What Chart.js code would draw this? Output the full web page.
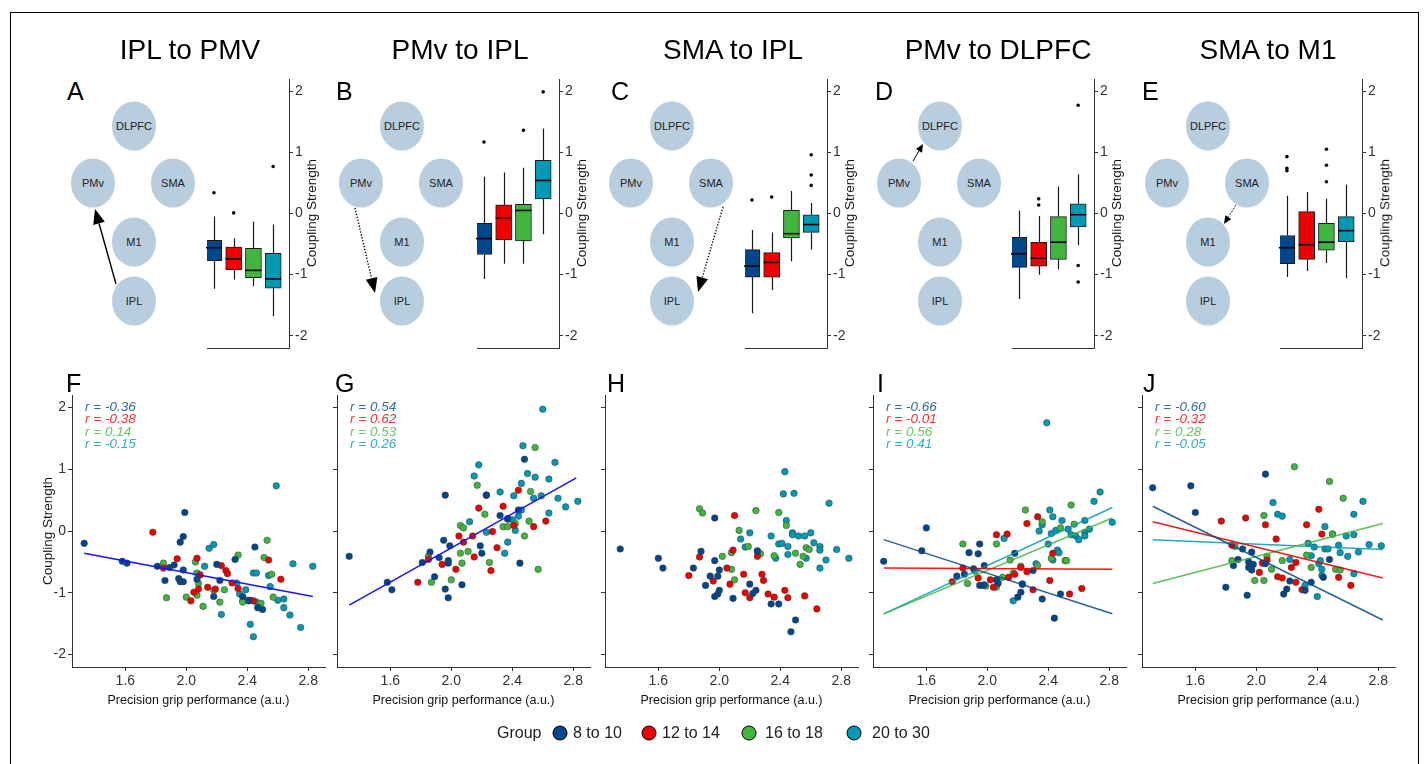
<!DOCTYPE html>
<html>
<head>
<meta charset="utf-8">
<script src="https://cdn.jsdelivr.net/npm/chart.js@4.4.0/dist/chart.umd.min.js"></script>
<style>
  html, body { margin: 0; padding: 0; background: #fff; }
  body { width: 1427px; height: 764px; position: relative; overflow: hidden;
         font-family: "Liberation Sans", Arial, sans-serif; color: #000; }
  canvas { position: absolute; }
  .t { position: absolute; white-space: nowrap; line-height: 1; }
</style>
</head>
<body>
<svg id="diagrams" width="1427" height="764" style="position:absolute;left:0;top:0"></svg>
<script>
// ---- data ----
const GROUPS = ['8 to 10', '12 to 14', '16 to 18', '20 to 30'];
const TITLES = ['IPL to PMV', 'PMv to IPL', 'SMA to IPL', 'PMv to DLPFC', 'SMA to M1'];
const Y_TICKS = [-2, -1, 0, 1, 2];
const X_TICKS = [1.6, 2.0, 2.4, 2.8];

// boxplots: per group [lower whisker, Q1, median, Q3, upper whisker]
const boxA = [[-1.23, -0.77, -0.56, -0.44, -0.05], [-1.08, -0.92, -0.74, -0.55, -0.41], [-1.19, -1.05, -0.93, -0.57, -0.13], [-1.68, -1.22, -1.07, -0.65, -0.18]];
const outA = [[0.34], [0.01], [], [0.77]];
const boxB = [[-1.07, -0.67, -0.41, -0.16, 0.60], [-0.82, -0.43, -0.07, 0.14, 0.67], [-0.82, -0.45, 0.05, 0.15, 0.75], [-0.34, 0.24, 0.54, 0.87, 1.39]];
const outB = [[1.17], [], [1.36], [1.99]];
const boxC = [[-1.63, -1.04, -0.86, -0.59, -0.27], [-1.25, -1.04, -0.80, -0.64, -0.31], [-0.78, -0.40, -0.33, 0.05, 0.37], [-0.59, -0.31, -0.18, -0.02, 0.17]];
const outC = [[0.22], [0.27], [], [0.96, 0.63, 0.46]];
const boxD = [[-1.40, -0.88, -0.66, -0.39, 0.05], [-1.00, -0.86, -0.73, -0.47, -0.04], [-0.91, -0.75, -0.47, -0.05, 0.44], [-0.52, -0.22, -0.02, 0.16, 0.64]];
const outD = [[], [0.24, 0.14], [], [1.77, -0.85, -1.12]];
const boxE = [[-1.04, -0.82, -0.56, -0.36, 0.29], [-0.94, -0.75, -0.51, 0.03, 0.35], [-0.81, -0.60, -0.47, -0.16, 0.24], [-1.06, -0.46, -0.28, -0.05, 0.47]];
const outE = [[0.93, 0.74, 0.70], [], [1.05, 0.79, 0.52], []];

// scatter: per group [grip performance, coupling strength]
const ptsF = [
  [[1.33,-0.20],[1.58,-0.49],[1.61,-0.52],[1.81,-0.57],[1.86,-0.80],[1.89,-0.59],[1.92,-0.55],[1.95,-0.77],[1.96,-0.18],[1.96,-0.82],[1.98,-0.09],[1.98,-0.63],[1.98,-0.82],[1.99,0.30],[2.07,-0.78],[2.18,-1.06],[2.20,-0.54],[2.22,-0.80],[2.32,-0.46],[2.37,-1.06],[2.41,-1.13],[2.45,-0.26],[2.47,-1.24],[2.50,-1.27]],
  [[1.78,-0.02],[1.85,-0.60],[1.94,-0.45],[2.03,-1.13],[2.05,-0.99],[2.07,-0.44],[2.08,-0.94],[2.09,-0.71],[2.14,-0.91],[2.19,-0.94],[2.23,-0.56],[2.26,-0.64],[2.27,-0.69],[2.30,-0.84],[2.34,-0.93],[2.42,-1.12],[2.44,-1.13],[2.54,-0.47],[2.62,-0.78]],
  [[1.85,-0.52],[1.87,-1.08],[2.00,-1.07],[2.06,-0.50],[2.07,-0.68],[2.07,-1.04],[2.08,-0.85],[2.11,-1.22],[2.18,-0.96],[2.22,-1.15],[2.25,-0.95],[2.34,-0.39],[2.37,-1.15],[2.49,-1.17],[2.51,-0.43],[2.53,-0.15],[2.56,-0.70],[2.57,-1.07]],
  [[2.12,-0.57],[2.15,-0.28],[2.18,-0.22],[2.23,-1.35],[2.33,-0.84],[2.35,-1.02],[2.37,-1.13],[2.39,-0.95],[2.40,-1.12],[2.42,-1.51],[2.44,-1.71],[2.44,-0.68],[2.46,-0.68],[2.46,-1.15],[2.47,-1.24],[2.54,-0.72],[2.55,-0.90],[2.59,0.73],[2.60,-1.12],[2.64,-1.10],[2.64,-1.24],[2.68,-1.36],[2.70,-0.53],[2.75,-1.56],[2.83,-0.57]]
];
const ptsG = [
  [[1.33,-0.41],[1.58,-0.83],[1.61,-0.95],[1.81,-0.51],[1.86,-0.34],[1.89,-0.74],[1.92,-0.43],[1.95,-0.15],[1.96,0.58],[1.96,-0.94],[1.98,-0.48],[1.98,-0.52],[1.98,-1.08],[1.99,-0.24],[2.07,-0.87],[2.19,-0.24],[2.20,-0.36],[2.23,0.58],[2.32,0.25],[2.37,0.20],[2.44,0.34],[2.45,-0.52],[2.48,1.16]],
  [[1.78,-0.83],[1.85,-0.46],[1.94,-0.54],[2.03,-0.62],[2.05,-0.08],[2.08,-0.18],[2.14,-0.08],[2.15,-0.42],[2.18,0.37],[2.23,0.58],[2.26,-0.64],[2.27,-0.01],[2.30,-0.27],[2.34,0.40],[2.41,0.09],[2.44,0.66],[2.54,0.07],[2.62,0.16]],
  [[1.85,-0.41],[1.87,-0.83],[2.00,-0.79],[2.06,0.09],[2.08,0.05],[2.06,-0.36],[2.07,-0.52],[2.11,-0.33],[2.17,0.74],[2.22,0.27],[2.25,-0.51],[2.34,0.07],[2.37,0.07],[2.42,0.12],[2.48,-0.08],[2.51,0.16],[2.52,0.64],[2.55,1.35],[2.57,-0.62]],
  [[2.12,0.15],[2.15,0.89],[2.18,1.07],[2.23,-0.02],[2.32,0.63],[2.35,-0.36],[2.37,-0.18],[2.37,0.19],[2.40,0.18],[2.41,0.57],[2.42,0.01],[2.44,0.24],[2.46,0.34],[2.46,0.77],[2.47,1.38],[2.50,0.93],[2.54,0.53],[2.55,0.87],[2.59,0.57],[2.60,1.97],[2.64,0.29],[2.64,0.84],[2.68,1.11],[2.70,0.53],[2.75,0.39],[2.83,0.48]]
];
const ptsH = [
  [[1.35,-0.29],[1.60,-0.44],[1.63,-0.60],[1.83,-0.60],[1.88,-0.33],[1.91,-0.88],[1.94,-0.73],[1.97,-1.06],[1.97,0.21],[1.97,-0.48],[1.99,-1.02],[1.99,-0.73],[2.00,-0.63],[2.00,-0.96],[2.09,-1.09],[2.20,-0.86],[2.22,-1.01],[2.24,-0.96],[2.25,-0.33],[2.34,-1.18],[2.39,-1.18],[2.47,-1.63],[2.50,-1.44]],
  [[1.80,-0.72],[1.87,-0.42],[1.96,-0.81],[2.05,-0.60],[2.07,-0.86],[2.09,-0.31],[2.10,0.25],[2.16,-0.70],[2.17,-1.00],[2.20,-1.08],[2.25,-0.41],[2.28,-0.70],[2.29,-0.80],[2.32,-1.02],[2.36,-1.07],[2.43,-0.96],[2.45,-1.08],[2.56,-1.05],[2.64,-1.26]],
  [[1.87,0.36],[1.89,0.29],[2.02,-0.41],[2.08,-0.62],[2.08,-0.35],[2.10,-0.79],[2.13,0.01],[2.19,-0.25],[2.24,0.33],[2.27,-0.37],[2.36,-0.40],[2.39,0.30],[2.44,0.09],[2.50,-0.36],[2.53,-0.54],[2.55,-0.41],[2.57,-0.27],[2.59,-0.30]],
  [[2.14,-0.13],[2.17,-0.26],[2.20,-0.03],[2.25,-0.32],[2.34,-0.08],[2.37,-0.44],[2.39,-0.21],[2.41,-0.20],[2.42,0.60],[2.43,0.96],[2.44,0.17],[2.45,-0.25],[2.45,-0.38],[2.48,-0.03],[2.48,-0.06],[2.49,0.61],[2.52,-0.08],[2.56,-0.08],[2.57,-0.44],[2.60,-0.03],[2.62,-0.19],[2.66,-0.25],[2.66,-0.31],[2.66,-0.60],[2.70,-0.47],[2.72,0.45],[2.77,-0.30],[2.85,-0.44]]
];
const ptsI = [
  [[1.32,-0.49],[1.57,-0.32],[1.60,0.05],[1.80,-0.73],[1.85,-0.70],[1.88,-0.35],[1.91,-0.61],[1.94,-0.37],[1.95,-0.21],[1.95,-0.88],[1.97,-0.88],[1.98,-0.56],[1.98,-0.87],[2.06,-0.79],[2.07,-0.84],[2.18,-0.36],[2.20,-1.07],[2.22,-0.99],[2.23,-0.86],[2.30,-0.64],[2.36,-1.10],[2.44,-1.41],[2.48,-1.02]],
  [[1.77,-0.82],[1.84,-0.60],[1.94,-0.76],[2.02,-0.79],[2.04,-0.91],[2.06,-0.06],[2.07,-0.85],[2.13,-0.05],[2.14,-0.75],[2.18,-0.70],[2.22,-0.59],[2.26,0.12],[2.26,-0.66],[2.30,-0.95],[2.33,0.23],[2.41,-0.80],[2.43,-0.36],[2.54,-1.02],[2.62,-0.93]],
  [[1.84,-0.21],[1.87,-0.85],[1.92,-0.65],[1.99,-0.89],[2.06,-0.21],[2.06,-0.91],[2.10,-0.75],[2.15,-0.47],[2.17,-0.68],[2.22,-0.57],[2.25,0.34],[2.33,-0.56],[2.36,0.15],[2.42,-0.44],[2.48,0.05],[2.51,-0.48],[2.52,-0.48],[2.55,0.42],[2.57,0.11]],
  [[2.11,-0.12],[2.17,-1.13],[2.23,-0.86],[2.32,-0.53],[2.34,0.00],[2.36,0.10],[2.39,1.75],[2.40,-0.21],[2.41,0.34],[2.42,-0.04],[2.43,0.23],[2.43,-0.47],[2.45,0.01],[2.46,-0.31],[2.47,-0.35],[2.49,0.17],[2.53,0.03],[2.55,-0.06],[2.58,-0.08],[2.60,-0.14],[2.64,0.17],[2.64,-0.02],[2.64,-0.08],[2.67,0.03],[2.70,0.48],[2.74,0.63],[2.82,0.14]]
];
const ptsJ = [
  [[1.32,0.70],[1.57,0.73],[1.60,0.30],[1.80,-0.91],[1.85,-0.56],[1.88,-0.46],[1.91,-0.29],[1.94,-1.04],[1.95,-0.50],[1.95,-0.59],[1.97,-0.34],[1.97,-0.63],[1.98,-0.54],[2.06,0.92],[2.06,-0.53],[2.18,-1.02],[2.20,-0.94],[2.22,-0.81],[2.32,-0.96],[2.36,-0.83],[2.44,-0.75],[2.48,-0.46]],
  [[1.77,0.16],[1.84,-0.23],[1.93,0.21],[2.02,-0.67],[2.04,-0.52],[2.06,0.10],[2.07,-0.47],[2.13,-0.13],[2.14,-0.74],[2.17,-0.76],[2.23,-0.59],[2.26,-0.83],[2.26,-0.51],[2.30,-0.95],[2.33,0.10],[2.41,0.35],[2.43,-0.05],[2.54,-0.75],[2.62,-0.88]],
  [[1.84,-0.48],[1.86,-0.25],[1.99,-0.80],[2.05,0.25],[2.05,-0.80],[2.07,-0.41],[2.10,-0.62],[2.17,-0.48],[2.25,1.04],[2.33,-0.39],[2.36,-0.59],[2.48,0.80],[2.50,-0.05],[2.52,-0.62],[2.55,-0.63],[2.57,0.53]],
  [[2.11,0.46],[2.14,0.27],[2.17,0.24],[2.22,-0.46],[2.32,-0.88],[2.34,-0.20],[2.36,-0.40],[2.38,-0.26],[2.40,-1.06],[2.41,-0.53],[2.42,-0.48],[2.43,-0.62],[2.43,-0.72],[2.45,0.07],[2.45,-0.29],[2.47,-0.29],[2.50,-0.05],[2.54,-0.23],[2.55,-0.35],[2.59,-0.08],[2.60,-0.41],[2.64,0.27],[2.64,-0.06],[2.64,-0.69],[2.67,-0.34],[2.70,0.48],[2.74,-0.22],[2.82,-0.24]]
];

// fitted lines, end points [x, y]
const fitF = [[[1.33, -0.36], [2.83, -1.06]]];
const fitG = [[[1.33, -1.20], [2.82, 0.86]]];
const fitI = [[[1.32, -0.14], [2.82, -1.34]], [[1.32, -0.60], [2.82, -0.62]], [[1.32, -1.34], [2.82, 0.21]], [[1.32, -1.34], [2.82, 0.38]]];
const fitJ = [[[1.32, 0.40], [2.83, -1.44]], [[1.32, 0.15], [2.83, -0.76]], [[1.32, -0.85], [2.83, 0.12]], [[1.32, -0.14], [2.83, -0.30]]];

const rF = ['-0.36', '-0.38', '0.14', '-0.15'];
const rG = ['0.54', '0.62', '0.53', '0.26'];
const rI = ['-0.66', '-0.01', '0.56', '0.41'];
const rJ = ['-0.60', '-0.32', '0.28', '-0.05'];

// ---- styling / layout ----
const FONT = '"Liberation Sans", Arial, sans-serif';
const COLORS = ['#00468B', '#ED0000', '#42B540', '#0099B4'];
const TEXT_COLORS = ['#336BA2', '#F13333', '#68C466', '#33ADC3'];
const LINE_COLORS = ['rgba(0,70,139,0.85)', 'rgba(237,0,0,0.9)', 'rgba(66,181,64,0.85)', 'rgba(0,153,180,0.85)'];
const AXIS = '#333';

Chart.defaults.font.family = FONT;
Chart.defaults.color = AXIS;
Chart.defaults.animation = false;

function text(str, x, y, css) {
  const d = document.createElement('div');
  d.className = 't';
  d.textContent = str;
  d.style.left = x + 'px';
  d.style.top = y + 'px';
  d.style.cssText += css || '';
  document.body.appendChild(d);
  return d;
}

function makeCanvas(x, y, w, h) {
  const c = document.createElement('canvas');
  c.width = w; c.height = h;
  c.style.cssText = `left:${x}px;top:${y}px;width:${w}px;height:${h}px;`;
  document.body.appendChild(c);
  return c;
}

// figure frame + region diagrams
const svg = document.getElementById('diagrams');
const NS = 'http://www.w3.org/2000/svg';
function el(tag, attrs) {
  const e = document.createElementNS(NS, tag);
  for (const k in attrs) e.setAttribute(k, attrs[k]);
  svg.appendChild(e);
  return e;
}
el('rect', {x: 10.5, y: 12.5, width: 1408, height: 800, fill: 'none', stroke: '#000', 'stroke-width': 1});

const NODES = ['DLPFC', 'PMv', 'SMA', 'M1', 'IPL'];
const NODE_OFF = [[0, 126], [-41, 183], [39, 183], [0, 242], [0, 301]];
const DIAG_CX = [134, 402, 672, 940, 1208];
const ARROWS = [
  {from: [116, 284], to: [95, 209], dash: '', head: 15, hw: 6, lw: 1.4},
  {from: [355, 208], to: [375, 293], dash: '1.3 1.7', head: 15, hw: 6, lw: 1.4},
  {from: [723, 207], to: [698, 292], dash: '1.3 1.7', head: 15, hw: 6, lw: 1.4},
  {from: [913, 161], to: [923, 144], dash: '', head: 8, hw: 3.5, lw: 1},
  {from: [1236, 205], to: [1224, 224], dash: '2 1.3', head: 8, hw: 3.5, lw: 0.9}
];

DIAG_CX.forEach((cx, p) => {
  NODES.forEach((name, n) => {
    const [dx, cy] = NODE_OFF[n];
    el('ellipse', {cx: cx + dx, cy: cy, rx: 22, ry: 24.5, fill: '#B8CDDD'});
    const t = el('text', {x: cx + dx, y: cy + 4, 'text-anchor': 'middle', 'font-size': 11,
      'font-family': FONT, fill: '#222'});
    t.textContent = name;
  });
  const a = ARROWS[p];
  const vx = a.to[0] - a.from[0], vy = a.to[1] - a.from[1];
  const len = Math.hypot(vx, vy), ux = vx / len, uy = vy / len;
  const bx = a.to[0] - ux * a.head, by = a.to[1] - uy * a.head;
  const ln = el('line', {x1: a.from[0], y1: a.from[1], x2: bx, y2: by, stroke: '#000', 'stroke-width': a.lw});
  if (a.dash) ln.setAttribute('stroke-dasharray', a.dash);
  el('polygon', {points: `${a.to[0]},${a.to[1]} ${bx - uy * a.hw},${by + ux * a.hw} ${bx + uy * a.hw},${by - ux * a.hw}`, fill: '#000'});
});

// ---- boxplots ----
const BOX_RIGHT = [289, 559, 827, 1094, 1362];
const BOX_W = 82;
const BOX_TOP = 79, BOX_BOTTOM = 348;

function boxExtras(stats, outs) {
  return {
    id: 'boxExtras',
    beforeDatasetsDraw(chart) {
      const {ctx, scales: {x, y}} = chart;
      ctx.save();
      ctx.strokeStyle = '#1a1a1a';
      ctx.lineWidth = 1.2;
      stats.forEach((s, k) => {
        const px = Math.round(x.getPixelForValue(k + 1)) + 0.5;
        ctx.beginPath();
        ctx.moveTo(px, y.getPixelForValue(s[0])); ctx.lineTo(px, y.getPixelForValue(s[1]));
        ctx.moveTo(px, y.getPixelForValue(s[3])); ctx.lineTo(px, y.getPixelForValue(s[4]));
        ctx.stroke();
      });
      ctx.restore();
    },
    afterDatasetsDraw(chart) {
      const {ctx, scales: {x, y}} = chart;
      const bars = chart.getDatasetMeta(0).data;
      ctx.save();
      ctx.strokeStyle = '#000';
      ctx.lineWidth = 1.6;
      stats.forEach((s, k) => {
        const b = bars[k];
        const py = y.getPixelForValue(s[2]);
        ctx.beginPath();
        ctx.moveTo(b.x - b.width / 2, py); ctx.lineTo(b.x + b.width / 2, py);
        ctx.stroke();
      });
      ctx.fillStyle = '#000';
      outs.forEach((list, k) => {
        const px = x.getPixelForValue(k + 1);
        list.forEach(v => {
          ctx.beginPath();
          ctx.arc(px, y.getPixelForValue(v), 1.8, 0, Math.PI * 2);
          ctx.fill();
        });
      });
      ctx.restore();
    }
  };
}

function boxChart(p, stats, outs) {
  const left = BOX_RIGHT[p] - BOX_W;
  const padT = 16, padL = 6, yW = 24, xH = 16;
  const cv = makeCanvas(left - padL, BOX_TOP - padT, padL + BOX_W + yW + 2, padT + (BOX_BOTTOM - BOX_TOP) + xH);
  new Chart(cv, {
    type: 'bar',
    data: {
      datasets: [{
        data: stats.map((s, k) => ({x: k + 1, y: [s[1], s[3]]})),
        backgroundColor: COLORS,
        borderColor: '#1a1a1a',
        borderWidth: 1,
        borderSkipped: false,
        barThickness: 16
      }]
    },
    options: {
      responsive: false,
      animation: false,
      layout: {padding: {left: padL, top: padT, right: 2, bottom: 0}},
      plugins: {legend: {display: false}, tooltip: {enabled: false}},
      scales: {
        x: {
          type: 'linear', min: 0.65, max: 4.8, offset: false,
          ticks: {display: false},
          grid: {display: false, offset: false},
          border: {display: true, color: AXIS, width: 1},
          afterFit: s => { s.height = xH; }
        },
        y: {
          position: 'right', min: -2.2, max: 2.2,
          afterBuildTicks: s => { s.ticks = Y_TICKS.map(v => ({value: v})); },
          ticks: {color: AXIS, font: {size: 14}, padding: 2},
          grid: {display: true, drawOnChartArea: false, drawTicks: true, tickLength: 4, color: AXIS},
          border: {display: true, color: AXIS, width: 1},
          afterFit: s => { s.width = yW; }
        }
      }
    },
    plugins: [boxExtras(stats, outs)]
  });
  text('Coupling Strength', BOX_RIGHT[p] + 23, 213,
    'font-size:13.5px;color:#111;transform:translate(-50%,-50%) rotate(-90deg);');
}

[[boxA, outA], [boxB, outB], [boxC, outC], [boxD, outD], [boxE, outE]].forEach((b, p) => boxChart(p, b[0], b[1]));

// ---- scatter plots ----
const SC_LEFT = [72, 337, 605, 873, 1142];
const SC_W = 253, SC_TOP = 395, SC_BOTTOM = 667;

function scatterChart(p, pts, fits, rs, showY) {
  const left = SC_LEFT[p];
  const padT = 16, yW = 50, xH = 28, padR = 6;
  const cv = makeCanvas(left - yW, SC_TOP - padT, yW + SC_W + padR, padT + (SC_BOTTOM - SC_TOP) + xH);
  const datasets = [];
  if (fits) {
    fits.forEach((f, k) => datasets.push({
      data: f.map(q => ({x: q[0], y: q[1]})),
      showLine: true,
      borderColor: fits.length === 1 ? '#1414FF' : LINE_COLORS[k],
      borderWidth: 1.5,
      pointRadius: 0
    }));
  }
  pts.forEach((g, k) => datasets.push({
    data: g.map(q => ({x: q[0], y: q[1]})),
    pointRadius: 3.3,
    pointBackgroundColor: COLORS[k],
    pointBorderColor: '#3a3a3a',
    pointBorderWidth: 0.5
  }));
  new Chart(cv, {
    type: 'scatter',
    data: {datasets},
    options: {
      responsive: false,
      animation: false,
      layout: {padding: {left: 0, top: padT, right: padR, bottom: 0}},
      plugins: {legend: {display: false}, tooltip: {enabled: false}},
      scales: {
        x: {
          type: 'linear', min: 1.25, max: 2.91,
          afterBuildTicks: s => { s.ticks = X_TICKS.map(v => ({value: v})); },
          ticks: {color: AXIS, font: {size: 14}, padding: 2, maxRotation: 0, autoSkip: false,
                  callback: v => Number(v).toFixed(1)},
          grid: {display: true, drawOnChartArea: false, drawTicks: true, tickLength: 4, color: AXIS},
          border: {display: true, color: AXIS, width: 1},
          afterFit: s => { s.height = xH; }
        },
        y: {
          min: -2.2, max: 2.2,
          afterBuildTicks: s => { s.ticks = Y_TICKS.map(v => ({value: v})); },
          ticks: {display: showY, color: AXIS, font: {size: 14}, padding: 2},
          grid: {display: true, drawOnChartArea: false, drawTicks: true, tickLength: 4, color: AXIS},
          border: {display: true, color: AXIS, width: 1},
          afterFit: s => { s.width = yW; }
        }
      }
    }
  });
  if (rs) {
    rs.forEach((r, k) => text('r = ' + r, left + 13, 400 + k * 12.3,
      `font-size:13.5px;font-style:italic;color:${TEXT_COLORS[k]};`));
  }
  text('Precision grip performance (a.u.)', left + SC_W / 2, 700,
    'font-size:12.5px;color:#111;transform:translate(-50%,-50%);');
}

scatterChart(0, ptsF, fitF, rF, true);
scatterChart(1, ptsG, fitG, rG, false);
scatterChart(2, ptsH, null, null, false);
scatterChart(3, ptsI, fitI, rI, false);
scatterChart(4, ptsJ, fitJ, rJ, false);
text('Coupling Strength', 48, 531, 'font-size:13.5px;color:#111;transform:translate(-50%,-50%) rotate(-90deg);');

// ---- titles and panel letters ----
const TITLE_X = [190, 460, 733, 998, 1268];
TITLES.forEach((t, p) => text(t, TITLE_X[p], 50, 'font-size:28px;transform:translate(-50%,-50%);'));
const TOP_LETTER_X = [67, 336, 611, 875, 1142];
const BOT_LETTER_X = [66, 335, 607, 877, 1143];
['A', 'B', 'C', 'D', 'E'].forEach((l, p) => text(l, TOP_LETTER_X[p], 91, 'font-size:25px;transform:translateY(-50%);'));
['F', 'G', 'H', 'I', 'J'].forEach((l, p) => text(l, BOT_LETTER_X[p], 383, 'font-size:25px;transform:translateY(-50%);'));

// ---- legend ----
text('Group', 497, 733, 'font-size:16px;color:#222;transform:translateY(-50%);');
const LEG_DOT = [560, 649, 749, 854];
const LEG_TXT = [573, 662, 765, 872];
GROUPS.forEach((g, k) => {
  el('circle', {cx: LEG_DOT[k], cy: 733, r: 7, fill: COLORS[k], stroke: '#000', 'stroke-width': 1});
  text(g, LEG_TXT[k], 733, 'font-size:16px;color:#222;transform:translateY(-50%);');
});
</script>
</body>
</html>
